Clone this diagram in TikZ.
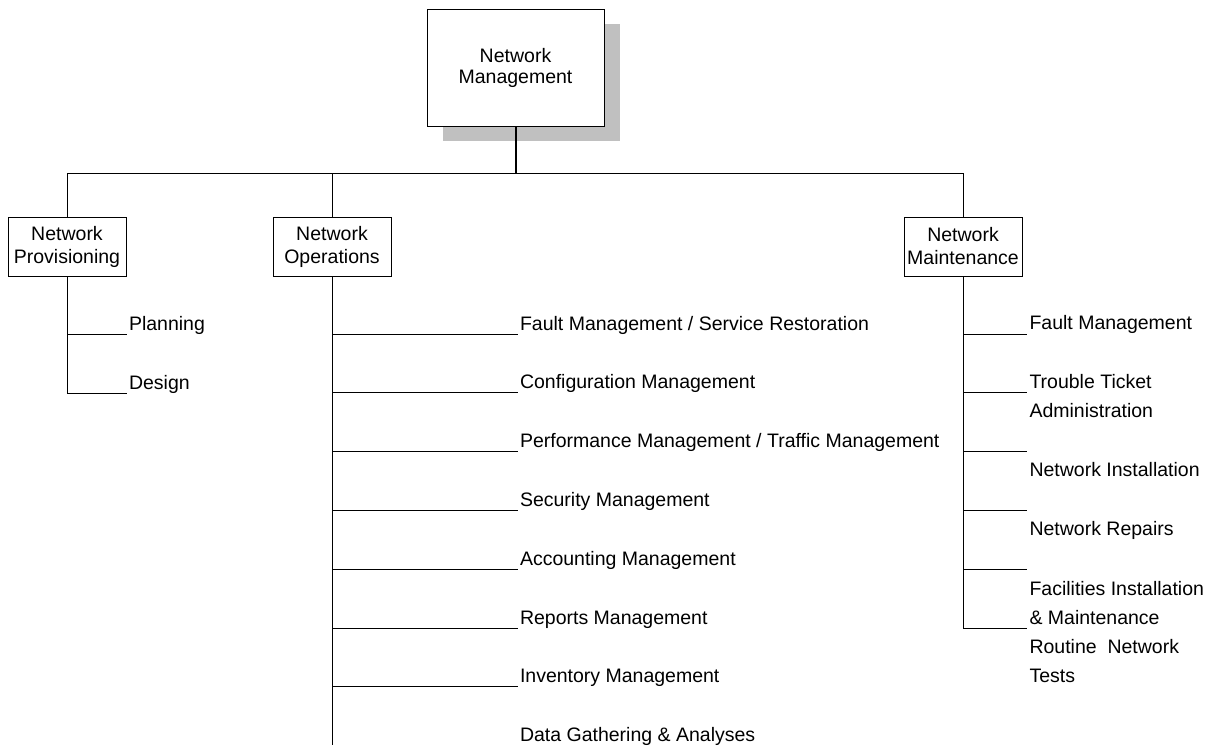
\documentclass[tikz,border=0pt]{standalone}
\usepackage{fontspec}
\setmainfont{Liberation Sans}
\usetikzlibrary{shadows}
\definecolor{shadowgray}{RGB}{192,192,192}

\begin{document}
\begin{tikzpicture}[x=1pt,y=-1pt,line width=1pt,
        unit/.style={draw, fill=white, align=center, inner sep=0pt,
            minimum width=118pt, minimum height=59pt,
            font=\fontsize{19.5}{23}\selectfont},
        task/.style={anchor=base west, inner sep=0pt, align=left,
            font=\fontsize{19.5}{29}\selectfont}]
        \useasboundingbox (0,0) rectangle (1212,745);

        % draw the top box with its shadow
        \node[unit, minimum width=177pt, minimum height=117pt,
            font=\fontsize{19.5}{21}\selectfont,
            drop shadow={shadow xshift=16pt, shadow yshift=-15pt, fill=shadowgray, opacity=1}]
            (mgmt) at (515.5,67.5) {Network\\Management};

        % draw the three departments
        \node[unit] (prov)  at (67,246.5)  {Network\\Provisioning};
        \node[unit] (ops)   at (332,246.5) {Network\\Operations};
        \node[unit] (maint) at (963,246.5) {Network\\Maintenance};

        % bus between top box and departments
        \coordinate (bus) at (mgmt.south |- 0,173);
        \draw[line width=2pt] (mgmt.south) -- (bus);
        \draw (prov.north |- bus) -- (maint.north |- bus);
        \foreach \x in {prov,ops,maint}
            \draw (\x.north |- bus) -- (\x.north);

        % provisioning tasks
        \draw (prov.south) -- (prov.south |- 0,393);
        \foreach \i/\y/\xtext in {1/334/Planning, 2/393/Design}
            \draw (prov.south |- 0,\y) -- ++(60,0)
                node[task, xshift=1.5pt, yshift=4pt] (pt\i) {\xtext};

        % operations tasks
        \draw (ops.south) -- (ops.south |- 0,745);
        \foreach \i/\xtext in {
            1/{Fault Management / Service Restoration},
            2/Configuration Management,
            3/{Performance Management / Traffic Management},
            4/Security Management,
            5/Accounting Management,
            6/Reports Management,
            7/Inventory Management}
                \draw (ops.south |- 0,{334+(\i-1)*58.8}) -- ++(186,0)
                    node[task, xshift=1.5pt, yshift=4pt] (ot\i) {\xtext};
        \node[task] (ot8) at (519.5,741.3) {Data Gathering \& Analyses};

        % maintenance ticks
        \draw (maint.south) -- (maint.south |- 0,628);
        \foreach \i in {0,...,5} {
            \coordinate (mt\i) at (1027,{334+\i*58.8});
            \draw (maint.south |- mt\i) -- (mt\i);
        }

        % maintenance tasks (base is the last line)
        \foreach \i/\y/\xtext in {
            1/329/Fault Management,
            2/417/{Trouble Ticket\\Administration},
            3/476/Network Installation,
            4/535/Network Repairs,
            5/624/{Facilities Installation\\\& Maintenance},
            6/682/{Routine\ \ Network\\Tests}}
                \node[task] (ml\i) at (1029,\y) {\xtext};
    \end{tikzpicture}
\end{document}
